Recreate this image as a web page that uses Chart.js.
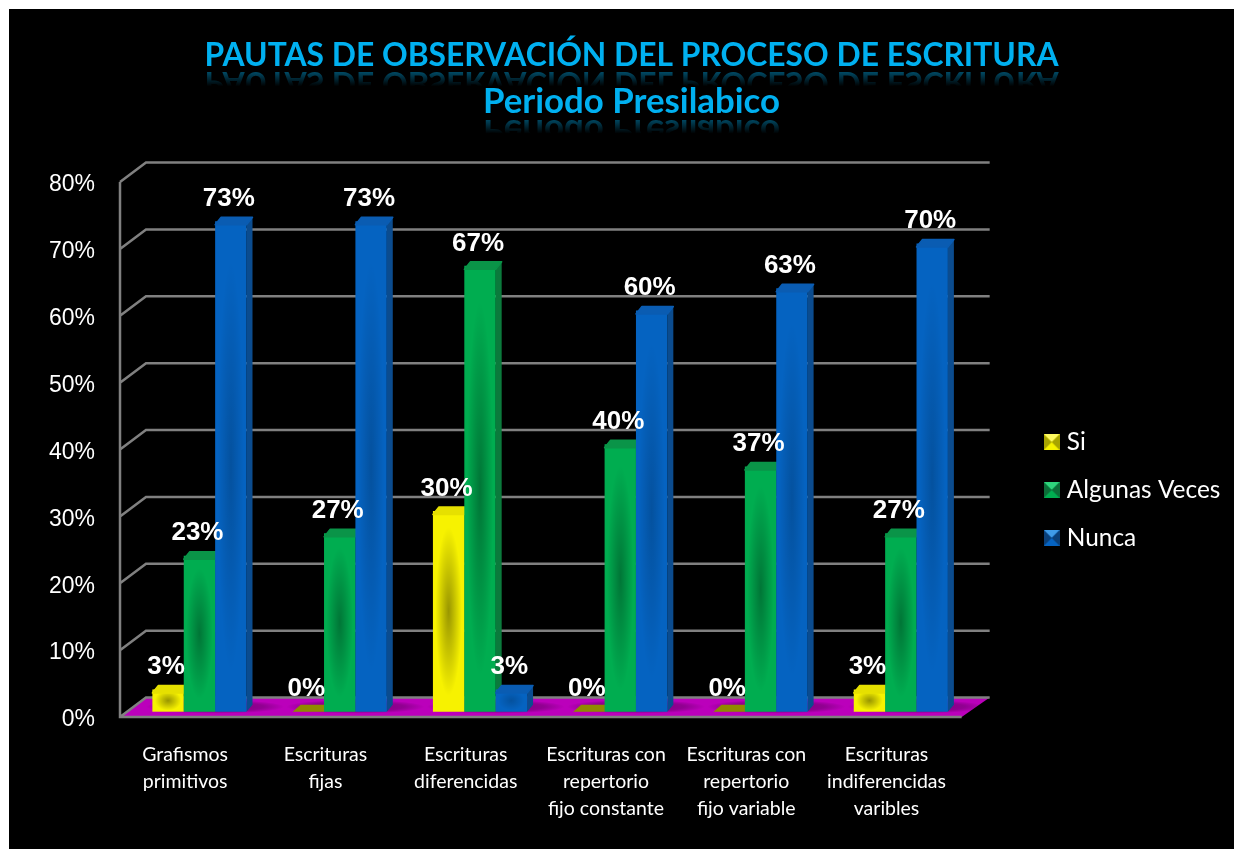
<!DOCTYPE html>
<html>
<head>
<meta charset="utf-8">
<title>Pautas de observación</title>
<script src="https://cdn.jsdelivr.net/npm/chart.js@4/dist/chart.umd.min.js"></script>
<style>
  html, body { margin: 0; height: 100%; overflow: hidden; background: #fff; }
  #chart { position: absolute; left: 9px; top: 9px; background: #000; }
</style>
</head>
<body>
<canvas id="chart" width="1225" height="840"></canvas>
<script>
"use strict";

const TITLE_TEXT = "PAUTAS DE OBSERVACIÓN DEL PROCESO DE ESCRITURA";
const SUBTITLE_TEXT = "Periodo Presilabico";
const CATEGORIES = [
  ["Grafismos", "primitivos"],
  ["Escrituras", "fijas"],
  ["Escrituras", "diferencidas"],
  ["Escrituras con", "repertorio", "fijo constante"],
  ["Escrituras con", "repertorio", "fijo variable"],
  ["Escrituras", "indiferencidas", "varibles"],
];
const SI = [3.33, 0, 30, 0, 0, 3.33];
const ALGUNAS_VECES = [23.33, 26.67, 66.67, 40, 36.67, 26.67];
const NUNCA = [73.33, 73.33, 3.33, 60, 63.33, 70];

// front, side, cap, shade strength
const LOOK = [
  { front: "#f7f200", side: "#b5b000", cap: "#e6e000", zero: "#8f8a00", shade: 0.38, light: "#fffb60", dark: "#a8a400" },
  { front: "#00ad50", side: "#0b7a3c", cap: "#0a9448", zero: "#0a9448", shade: 0.32, light: "#2fd47c", dark: "#0b6e38" },
  { front: "#0563c1", side: "#0b4c8f", cap: "#0a5cb2", zero: "#0a5cb2", shade: 0.18, light: "#3f9be8", dark: "#0a3f78" },
];

const WALL_DX = 26, WALL_DY = 19.5;   // depth of floor and side wall
const AXIS_DX = 5, AXIS_DY = -3;      // drawn axis relative to the scales
const BAR_DX = 14.3, BAR_DY = -8.3;   // bars stand mid-floor
const BAR_DEPTH_X = 6, BAR_DEPTH_Y = 4, BEVEL = 3.5;
const GRID = "#808080";

function poly(ctx, pts, fill) {
  ctx.beginPath();
  pts.forEach((p, i) => (i ? ctx.lineTo(p[0], p[1]) : ctx.moveTo(p[0], p[1])));
  ctx.closePath();
  ctx.fillStyle = fill;
  ctx.fill();
}

function floorCorners(chart) {
  const { x, y } = chart.scales;
  const left = x.left + AXIS_DX, right = x.right + AXIS_DX;
  const y0 = y.getPixelForValue(0) + AXIS_DY;
  return [[left, y0], [left + WALL_DX, y0 - WALL_DY], [right + WALL_DX + 2, y0 - WALL_DY], [right, y0]];
}

function drawWalls(chart) {
  const { ctx, scales: { x, y } } = chart;
  const left = x.left + AXIS_DX, right = x.right + AXIS_DX;
  const y0 = y.getPixelForValue(0) + AXIS_DY;
  ctx.save();
  poly(ctx, floorCorners(chart), "#bb00bb");
  ctx.strokeStyle = GRID;
  ctx.lineWidth = 2.5;
  ctx.beginPath();
  y.ticks.forEach((t) => {
    const py = y.getPixelForValue(t.value) + AXIS_DY;
    ctx.moveTo(left, py);
    ctx.lineTo(left + WALL_DX, py - WALL_DY);
    ctx.lineTo(right + WALL_DX + 2, py - WALL_DY);
  });
  ctx.moveTo(left, y.getPixelForValue(80) + AXIS_DY);
  ctx.lineTo(left, y0);
  ctx.lineTo(right, y0);
  ctx.stroke();
  ctx.restore();
}

// soft dark patch on the floor under each group of bars
function drawFloorShadow(ctx, bar) {
  ctx.save();
  ctx.translate(bar.x + BAR_DX + bar.width / 2, bar.base + BAR_DY - 5);
  ctx.scale(bar.width * 2.2, 7);
  const g = ctx.createRadialGradient(0, 0, 0, 0, 0, 1);
  g.addColorStop(0, "rgba(50,0,50,0.5)");
  g.addColorStop(0.7, "rgba(50,0,50,0.3)");
  g.addColorStop(1, "rgba(50,0,50,0)");
  ctx.fillStyle = g;
  ctx.beginPath();
  ctx.arc(0, 0, 1, 0, Math.PI * 2);
  ctx.fill();
  ctx.restore();
}

function drawBarSide(ctx, bar, look) {
  if (bar.base - bar.y < 1) return;
  const r = bar.x + bar.width / 2;
  poly(ctx, [[r, bar.y + BEVEL], [r + BAR_DEPTH_X, bar.y - BAR_DEPTH_Y], [r + BAR_DEPTH_X, bar.base - 7], [r, bar.base]], look.side);
}

function drawBarShade(ctx, bar, look) {
  const h = bar.base - bar.y;
  if (h < 1) return;
  const l = bar.x - bar.width / 2;
  const rx = bar.width * 0.42, ry = Math.max(h * 0.42, 10);
  ctx.save();
  ctx.beginPath();
  ctx.rect(l, bar.y, bar.width, h);
  ctx.clip();
  ctx.translate(bar.x, bar.y + h / 2);
  ctx.scale(rx, ry);
  const g = ctx.createRadialGradient(0, 0, 0, 0, 0, 1);
  g.addColorStop(0, `rgba(0,0,0,${look.shade})`);
  g.addColorStop(1, "rgba(0,0,0,0)");
  ctx.fillStyle = g;
  ctx.fillRect(-2, -2, 4, 4);
  ctx.restore();
}

function drawBarCap(ctx, bar, look) {
  const l = bar.x - bar.width / 2, r = bar.x + bar.width / 2;
  if (bar.base - bar.y < 1) {
    poly(ctx, [[l, bar.base], [l + 8, bar.base - 7], [r + 8, bar.base - 7], [r, bar.base]], look.zero);
    return;
  }
  poly(ctx, [[l, bar.y + BEVEL], [l + BAR_DEPTH_X, bar.y - BAR_DEPTH_Y], [r + BAR_DEPTH_X, bar.y - BAR_DEPTH_Y], [r, bar.y + BEVEL]], look.cap);
  ctx.strokeStyle = look.cap;
  ctx.lineWidth = 1.5;
  ctx.lineJoin = "round";
  ctx.stroke();
}

function drawReflection(chart, block) {
  const ctx = chart.ctx;
  const opts = block.options;
  const font = Chart.helpers.toFont(opts.font);
  const text = opts.text;
  const cx = (block.left + block.right) / 2;
  const c = block.top + opts.padding.top + font.lineHeight / 2;
  const axis = c + font.size * 0.42;
  ctx.save();
  ctx.font = font.string;
  ctx.textAlign = "center";
  ctx.textBaseline = "middle";
  ctx.translate(cx, 2 * axis - c);
  ctx.scale(1, -1);
  const g = ctx.createLinearGradient(0, axis - c, 0, axis - c - 17);
  g.addColorStop(0, "rgba(0,176,240,0.5)");
  g.addColorStop(1, "rgba(0,176,240,0)");
  ctx.fillStyle = g;
  ctx.fillText(text, 0, 0);
  ctx.restore();
}

const barsPlugin = {
  id: "bars3d",
  beforeInit(chart) {
    // spacer between the plot and the legend
    Chart.layouts.addBox(chart, {
      position: "right", weight: 500, fullSize: false, z: 0, options: {},
      isHorizontal() { return false; },
      update(w, h) { this.width = 76.5; this.height = h; },
      draw() {},
    });
  },
  afterLayout(chart) {
    const lg = chart.legend;
    lg.top += 61; lg.bottom += 61;
    lg.left -= 8; lg.right -= 8;
  },
  beforeDatasetsDraw(chart) {
    const ctx = chart.ctx;
    drawWalls(chart);
    ctx.save();
    poly(ctx, floorCorners(chart), "rgba(0,0,0,0)");
    ctx.clip();
    chart.getDatasetMeta(1).data.forEach((bar) => drawFloorShadow(ctx, bar));
    ctx.restore();
    // left to right so each bar hides the cap of the one before it
    chart.data.datasets.forEach((ds, i) => {
      const meta = chart.getDatasetMeta(i), look = LOOK[i];
      ctx.save();
      ctx.translate(BAR_DX, BAR_DY);
      meta.data.forEach((bar) => drawBarSide(ctx, bar, look));
      meta.controller.draw();
      meta.data.forEach((bar) => drawBarShade(ctx, bar, look));
      meta.data.forEach((bar) => drawBarCap(ctx, bar, look));
      ctx.restore();
    });
    return false;
  },
  afterDraw(chart) {
    const ctx = chart.ctx;
    chart.boxes.filter((b) => b.options && b.options.text).forEach((b) => drawReflection(chart, b));
    ctx.save();
    ctx.fillStyle = "#fff";
    ctx.font = "bold 26px 'Liberation Sans', Arial, sans-serif";
    ctx.textAlign = "center";
    ctx.textBaseline = "middle";
    chart.data.datasets.forEach((ds, i) => {
      chart.getDatasetMeta(i).data.forEach((bar, k) => {
        ctx.fillText(Math.round(ds.data[k]) + "%", bar.x + BAR_DX - 2, bar.y + BAR_DY - 22.5);
      });
    });
    ctx.restore();
  },
};

function swatch(look) {
  const c = document.createElement("canvas");
  c.width = 16; c.height = 16;
  const s = c.getContext("2d");
  s.fillStyle = look.front; s.fillRect(0, 0, 16, 16);
  poly(s, [[0, 0], [16, 0], [8, 8]], look.light);
  poly(s, [[0, 0], [8, 8], [0, 16]], look.dark);
  poly(s, [[16, 0], [8, 8], [16, 16]], look.dark);
  return c;
}
const SWATCHES = LOOK.map(swatch);

new Chart(document.getElementById("chart"), {
  type: "bar",
  data: {
    labels: CATEGORIES,
    datasets: [
      { label: "Si", data: SI, backgroundColor: LOOK[0].front },
      { label: "Algunas Veces", data: ALGUNAS_VECES, backgroundColor: LOOK[1].front },
      { label: "Nunca", data: NUNCA, backgroundColor: LOOK[2].front },
    ],
  },
  plugins: [barsPlugin],
  options: {
    responsive: false, animation: false,
    layout: { padding: { left: 20, right: 0, top: 0, bottom: 0 } },
    datasets: { bar: { categoryPercentage: 0.671, barPercentage: 1 } },
    scales: {
      x: {
        grid: { display: false, drawTicks: false },
        border: { display: false },
        ticks: {
          autoSkip: false, maxRotation: 0, padding: 21.5, color: "#fff",
          font: { family: "Lato", size: 19.5, lineHeight: 1.385 },
        },
        afterFit: (s) => { s.height = 129; },
      },
      y: {
        min: 0, max: 80,
        grid: { display: false, drawTicks: false },
        border: { display: false },
        ticks: {
          stepSize: 10, padding: 20, color: "#fff",
          font: { family: "'Liberation Sans'", size: 23 },
          callback: (v) => v + "%",
        },
        afterFit: (s) => { s.width = 86; },
      },
    },
    plugins: {
      tooltip: { enabled: false },
      title: {
        display: true, text: TITLE_TEXT, color: "#00b0f0",
        padding: { top: 24, bottom: 0 },
        font: { family: "Lato", weight: "bold", size: 31.8, lineHeight: "46px" },
      },
      subtitle: {
        display: true, text: SUBTITLE_TEXT, color: "#00b0f0",
        padding: { top: 0, bottom: 60 },
        font: { family: "Lato", weight: "bold", size: 34.8, lineHeight: "46px" },
      },
      legend: {
        position: "right",
        labels: {
          usePointStyle: true, boxWidth: 6, padding: 23.5, color: "#fff",
          font: { family: "Lato", size: 24.4 },
          generateLabels(chart) {
            return Chart.defaults.plugins.legend.labels.generateLabels(chart)
              .map((item, i) => Object.assign(item, { pointStyle: SWATCHES[i] }));
          },
        },
      },
    },
  },
});
</script>
</body>
</html>
